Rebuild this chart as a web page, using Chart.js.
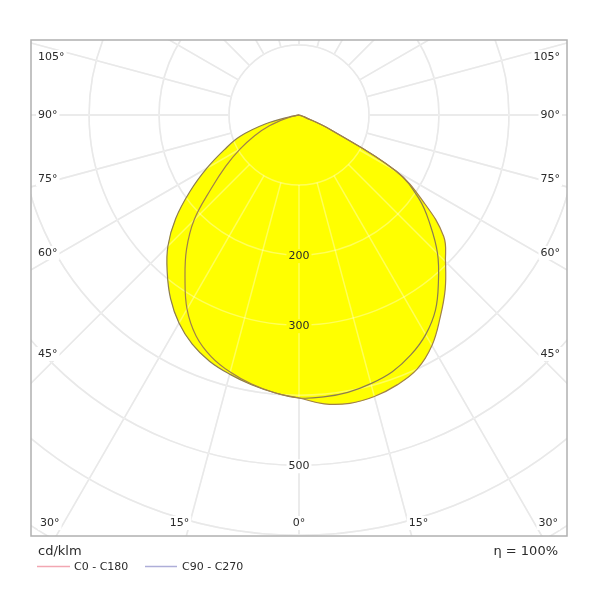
<!DOCTYPE html>
<html>
<head>
<meta charset="utf-8">
<script src="https://cdn.jsdelivr.net/npm/chart.js@4.4.1/dist/chart.umd.min.js"></script>
<style>
  html, body { margin: 0; padding: 0; background: #fff; }
  canvas { display: block; }
</style>
</head>
<body>
<canvas id="polar" width="600" height="600"></canvas>
<script>
// gamma = angle from nadir in degrees, intensities in cd/klm
const gammaAngles = [0, 5, 10, 15, 20, 25, 30, 35, 40, 45, 50, 55, 60, 65, 70, 75, 80, 85, 90];
const c0   = [404, 414, 418, 416, 410, 400, 380, 352, 325, 296, 270, 218, 160, 50, 8, 0, 0, 0, 0];
const c180 = [404, 398, 390, 380, 367, 348, 320, 284, 250, 212, 164, 128, 97, 70, 45, 20, 3, 0, 0];
const c90  = [404, 404, 402, 397, 390, 378, 362, 340, 310, 280, 245, 210, 160, 50, 8, 0, 0, 0, 0];
const c270 = [404, 398, 391, 383, 374, 361, 343, 320, 293, 265, 230, 190, 152, 118, 90, 50, 10, 0, 0];

const ringValues = [100, 200, 300, 400, 500, 600, 700];
const ringLabels = [200, 300, 500];
const spokeAngles = [0, 15, 30, 45, 60, 75, 90, 105, 120, 135, 150, 165, 180];
const sideAngleLabels = [105, 90, 75, 60, 45];
const bottomAngleLabels = [-30, -15, 0, 15, 30];

const FONT = '"DejaVu Sans", Verdana, sans-serif';

// left half goes from the top down to nadir, right half back up
function curvePoints(left, right) {
    const pts = [];
    for (let i = gammaAngles.length - 1; i >= 0; i--) {
        const g = gammaAngles[i] * Math.PI / 180;
        pts.push({ x: -left[i] * Math.sin(g), y: -left[i] * Math.cos(g) });
    }
    for (let i = 1; i < gammaAngles.length; i++) {
        const g = gammaAngles[i] * Math.PI / 180;
        pts.push({ x: right[i] * Math.sin(g), y: -right[i] * Math.cos(g) });
    }
    return pts;
}

function drawGrid(chart, color) {
    const { ctx, chartArea: a, scales: { x, y } } = chart;
    const cx = x.getPixelForValue(0);
    const cy = y.getPixelForValue(0);
    ctx.save();
    ctx.beginPath();
    ctx.rect(a.left, a.top, a.right - a.left, a.bottom - a.top);
    ctx.clip();
    ctx.strokeStyle = color;
    ctx.lineWidth = 1.5;
    ringValues.forEach(v => {
        const rx = x.getPixelForValue(v) - cx;
        const ry = cy - y.getPixelForValue(v);
        ctx.beginPath();
        ctx.ellipse(cx, cy, rx, ry, 0, 0, 2 * Math.PI);
        ctx.stroke();
    });
    const r0 = ringValues[0];
    const r1 = 1200;
    spokeAngles.forEach(g => {
        const sides = (g === 0 || g === 180) ? [1] : [-1, 1];
        sides.forEach(side => {
            const s = Math.sin(g * Math.PI / 180) * side;
            const c = Math.cos(g * Math.PI / 180);
            ctx.beginPath();
            ctx.moveTo(x.getPixelForValue(r0 * s), y.getPixelForValue(-r0 * c));
            ctx.lineTo(x.getPixelForValue(r1 * s), y.getPixelForValue(-r1 * c));
            ctx.stroke();
        });
    });
    ctx.restore();
}

function boxedText(ctx, text, px, py, align, bg) {
    const w = ctx.measureText(text).width;
    let left = px;
    if (align === 'center') left = px - w / 2;
    if (align === 'right') left = px - w;
    ctx.fillStyle = bg;
    ctx.fillRect(left - 2, py - 7, w + 4, 14);
    ctx.fillStyle = '#2b2b2b';
    ctx.textAlign = align;
    ctx.fillText(text, px, py);
}

const polarGrid = {
    id: 'polarGrid',
    beforeDraw(chart) {
        const { ctx, width, height } = chart;
        ctx.save();
        ctx.fillStyle = '#fff';
        ctx.fillRect(0, 0, width, height);
        ctx.restore();
        drawGrid(chart, '#dddddd');
    },
    beforeDatasetsDraw(chart) {
        drawGrid(chart, 'rgba(255,255,255,0.35)');
    },
    afterDraw(chart) {
        const { ctx, chartArea: a, scales: { x, y } } = chart;
        const cx = x.getPixelForValue(0);
        const cy = y.getPixelForValue(0);

        ctx.save();
        ctx.strokeStyle = '#b0b0b0';
        ctx.lineWidth = 1.5;
        ctx.strokeRect(a.left, a.top, a.right - a.left, a.bottom - a.top);

        ctx.font = '11px ' + FONT;
        ctx.textBaseline = 'middle';

        // angle labels along left and right edges
        sideAngleLabels.forEach(g => {
            const rad = g * Math.PI / 180;
            const t = (cx - a.left - 29) / Math.sin(rad);
            const py = Math.max(a.top + 17, cy + t * Math.cos(rad));
            boxedText(ctx, g + '°', a.left + 7, py, 'left', '#fff');
            boxedText(ctx, g + '°', a.right - 7, py, 'right', '#fff');
        });

        // angle labels along the bottom edge
        bottomAngleLabels.forEach(g => {
            const rad = g * Math.PI / 180;
            const text = Math.abs(g) + '°';
            const w = ctx.measureText(text).width;
            let px = cx + (a.bottom + 25 - cy) * Math.tan(rad);
            px = Math.min(Math.max(px, a.left + 9 + w / 2), a.right - 9 - w / 2);
            boxedText(ctx, text, px, a.bottom - 13, 'center', '#fff');
        });

        // intensity ring labels
        ringLabels.forEach(v => {
            const bg = v < c0[0] ? '#ffff00' : '#fff';
            boxedText(ctx, String(v), cx, y.getPixelForValue(-v) + 1, 'center', bg);
        });

        // unit, legend, efficiency
        ctx.font = '13px ' + FONT;
        ctx.fillStyle = '#2b2b2b';
        ctx.textAlign = 'left';
        ctx.fillText('cd/klm', a.left + 7, a.bottom + 16);
        ctx.textAlign = 'right';
        ctx.fillText('\u03B7 = 100%', a.right - 9, a.bottom + 16);

        const ly = a.bottom + 30.5;
        ctx.font = '11px ' + FONT;
        ctx.textAlign = 'left';
        ctx.lineWidth = 1.5;
        ctx.strokeStyle = '#f2a7b2';
        ctx.beginPath(); ctx.moveTo(a.left + 6, ly); ctx.lineTo(a.left + 39, ly); ctx.stroke();
        ctx.fillStyle = '#2b2b2b';
        ctx.fillText('C0 - C180', a.left + 43, ly + 1);
        ctx.strokeStyle = '#aeaed8';
        ctx.beginPath(); ctx.moveTo(a.left + 114, ly); ctx.lineTo(a.left + 146, ly); ctx.stroke();
        ctx.fillText('C90 - C270', a.left + 151, ly + 1);
        ctx.restore();
    }
};

const ctx = document.getElementById('polar').getContext('2d');

new Chart(ctx, {
    type: 'scatter',
    data: {
        datasets: [
            {
                label: 'C0 - C180',
                data: curvePoints(c180, c0),
                showLine: true,
                fill: 'shape',
                backgroundColor: '#ffff00',
                borderColor: '#a0804a',
                borderWidth: 1.2,
                pointRadius: 0,
                tension: 0.4,
            },
            {
                label: 'C90 - C270',
                data: curvePoints(c270, c90),
                showLine: true,
                fill: 'shape',
                backgroundColor: '#ffff00',
                borderColor: '#8c7c50',
                borderWidth: 1.2,
                pointRadius: 0,
                tension: 0.4,
            },
        ],
    },
    options: {
        responsive: false,
        animation: false,
        layout: { padding: { left: 31, top: 40, right: 33, bottom: 64 } },
        scales: {
            x: { type: 'linear', min: -383, max: 383, display: false },
            y: { type: 'linear', min: -601, max: 107, display: false },
        },
        plugins: {
            legend: { display: false },
            tooltip: { enabled: false },
            filler: { drawTime: 'beforeDatasetsDraw' },
        },
    },
    plugins: [polarGrid],
});
</script>
</body>
</html>
